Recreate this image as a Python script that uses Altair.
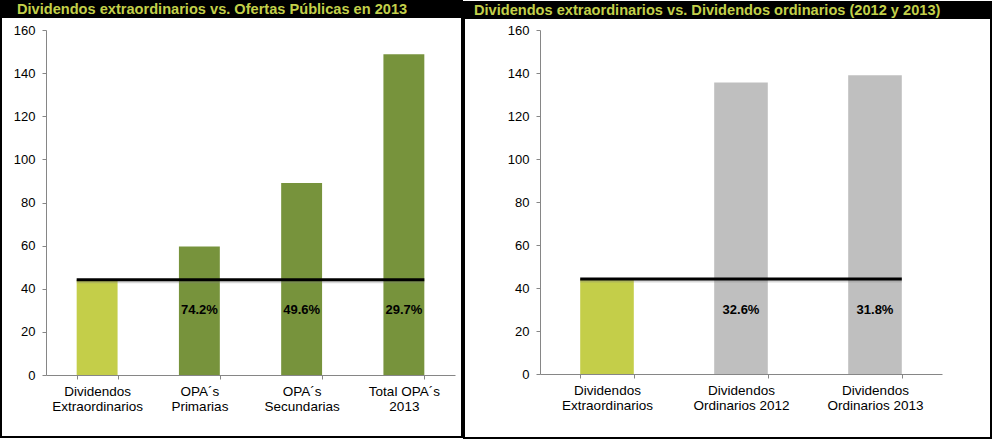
import altair as alt
import pandas as pd

# Montos (eje Y de 0 a 160)
left_categories = ["Dividendos\nExtraordinarios", "OPA´s\nPrimarias", "OPA´s\nSecundarias", "Total OPA´s\n2013"]
left_values = [44.2, 59.6, 89.1, 148.8]

right_categories = ["Dividendos\nExtraordinarios", "Dividendos\nOrdinarios 2012", "Dividendos\nOrdinarios 2013"]
right_values = [44.2, 135.6, 139.0]

y_ticks = [0, 20, 40, 60, 80, 100, 120, 140, 160]

left_title = "Dividendos extraordinarios vs. Ofertas Públicas en 2013"
right_title = "Dividendos extraordinarios vs. Dividendos ordinarios (2012 y 2013)"

FONT = "Arial, Liberation Sans"
EXTRA_COLOR = "#C4CE49"
TITLE_COLOR = "#C3D04A"
AXIS_GRAY = "#868686"
LABEL_Y = 30  # altura (en unidades del eje) de las etiquetas de porcentaje


def panel(cats, vals, other_color, title, width, height, left, right, top, bottom, title_x):
    base = vals[0]
    df = pd.DataFrame({
        "cat": cats,
        "value": vals,
        "fill": [EXTRA_COLOR] + [other_color] * (len(cats) - 1),
    })
    pct = pd.DataFrame({
        "cat": cats[1:],
        "pct": [f"{base / v * 100:.1f}%" for v in vals[1:]],
    })
    line = pd.DataFrame({"start": [cats[0]], "end": [cats[-1]], "value": [base]})

    xscale = alt.Scale(domain=cats, paddingInner=0.6, paddingOuter=0.3)
    xaxis = alt.Axis(
        title=None, labelAngle=0, labelExpr="split(datum.label, '\\n')",
        tickBand="extent", domainColor=AXIS_GRAY, tickColor=AXIS_GRAY,
        tickSize=4, labelPadding=5, labelFont=FONT, labelFontSize=13.5,
        labelColor="black", labelLineHeight=15, labelBaseline="top",
    )
    yscale = alt.Scale(domain=[0, 160], nice=False)
    yaxis = alt.Axis(
        title=None, values=y_ticks, grid=False, domainColor=AXIS_GRAY,
        tickColor=AXIS_GRAY, tickSize=4, labelPadding=7, labelFont=FONT,
        labelFontSize=13, labelColor="black",
    )

    one = alt.Data(values=[{}])
    frame = alt.Chart(one).mark_rect(fillOpacity=0, stroke="black", strokeWidth=2).encode(
        x=alt.value(-left + 1), x2=alt.value(width + right - 1),
        y=alt.value(-top + 1), y2=alt.value(height + bottom - 1),
    )
    title_bar = alt.Chart(one).mark_rect(fill="black").encode(
        x=alt.value(-left), x2=alt.value(width + right),
        y=alt.value(-top), y2=alt.value(-top + 18),
    )
    title_text = alt.Chart(one).mark_text(
        align="left", baseline="alphabetic", font=FONT, fontSize=14.6,
        fontWeight="bold", color=TITLE_COLOR,
    ).encode(x=alt.value(-left + title_x), y=alt.value(-top + 14), text=alt.value(title))

    bars = alt.Chart(df).mark_bar().encode(
        x=alt.X("cat:N", scale=xscale, sort=cats, axis=xaxis),
        y=alt.Y("value:Q", scale=yscale, axis=yaxis),
        color=alt.Color("fill:N", scale=None),
    )
    shadow = alt.Chart(line).mark_rule(color="#7f7f7f", strokeWidth=3, opacity=0.3, yOffset=2).encode(
        x=alt.X("start:N", scale=xscale, sort=cats, axis=xaxis, bandPosition=0),
        x2=alt.X2("end:N", bandPosition=1),
        y=alt.Y("value:Q", scale=yscale, axis=yaxis),
    )
    rule = alt.Chart(line).mark_rule(color="black", strokeWidth=3).encode(
        x=alt.X("start:N", scale=xscale, sort=cats, axis=xaxis, bandPosition=0),
        x2=alt.X2("end:N", bandPosition=1),
        y=alt.Y("value:Q", scale=yscale, axis=yaxis),
    )
    labels = alt.Chart(pct).mark_text(
        font=FONT, fontSize=13, fontWeight="bold", color="black", baseline="middle",
    ).encode(
        x=alt.X("cat:N", scale=xscale, sort=cats, axis=xaxis),
        y=alt.datum(LABEL_Y),
        text="pct:N",
    )
    return alt.layer(frame, title_bar, title_text, bars, shadow, rule, labels).properties(
        width=width, height=height
    )


left_panel = panel(left_categories, left_values, "#77933C", left_title,
                   width=409, height=345, left=46, right=8, top=30, bottom=63, title_x=17)
right_panel = panel(right_categories, right_values, "#BFBFBF", right_title,
                    width=402, height=344, left=77, right=50, top=29, bottom=65, title_x=11)

chart = alt.hconcat(left_panel, right_panel, spacing=0).properties(
    padding=0, background="white"
).configure_view(stroke=None)

chart.save("out.html", embed_options={"renderer": "svg", "actions": False})
